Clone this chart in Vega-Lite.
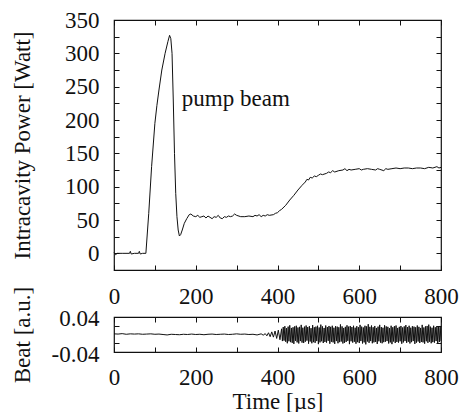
{
  "$schema": "https://vega.github.io/schema/vega-lite/v6.json",
  "padding": {"left": 10, "top": 8, "right": 5, "bottom": 0},
  "config": {
    "font": "Liberation Serif, Times New Roman, DejaVu Serif, serif",
    "view": {"stroke": "#111", "strokeWidth": 1.2},
    "axis": {
      "grid": false, "domain": false,
      "tickColor": "#111", "tickSize": -5, "tickWidth": 1,
      "labelColor": "#111", "labelFontSize": 23, "labelFont": "Liberation Serif, Times New Roman, DejaVu Serif, serif",
      "titleColor": "#111", "titleFontSize": 23, "titleFont": "Liberation Serif, Times New Roman, DejaVu Serif, serif", "titleFontWeight": "normal",
      "labelFlush": false, "labelPadding": 20
    }
  },
  "datasets": {
    "power": [
      {"t": 0, "v": 1}, {"t": 4, "v": -2}, {"t": 8, "v": 0}, {"t": 20, "v": 0}, {"t": 38, "v": 0}, {"t": 40, "v": 3}, {"t": 42, "v": -1}, {"t": 50, "v": 0}, {"t": 60, "v": 0}, {"t": 62, "v": 3}, {"t": 64, "v": -1}, {"t": 70, "v": 0}, {"t": 78, "v": 0},
      {"t": 85, "v": 60}, {"t": 92, "v": 130}, {"t": 100, "v": 195}, {"t": 105, "v": 222}, {"t": 110, "v": 245}, {"t": 117, "v": 275}, {"t": 125, "v": 300}, {"t": 132, "v": 318}, {"t": 136, "v": 327}, {"t": 139, "v": 322}, {"t": 142, "v": 300}, {"t": 145, "v": 230}, {"t": 148, "v": 150}, {"t": 151, "v": 90}, {"t": 154, "v": 55}, {"t": 157, "v": 35}, {"t": 160, "v": 26}, {"t": 163, "v": 28}, {"t": 167, "v": 35}, {"t": 172, "v": 45}, {"t": 178, "v": 52}, {"t": 184, "v": 58}, {"t": 188, "v": 59}, {"t": 194, "v": 56},
      {"t": 200, "v": 55}, {"t": 205, "v": 57}, {"t": 210, "v": 54}, {"t": 215, "v": 55}, {"t": 220, "v": 56}, {"t": 225, "v": 53}, {"t": 230, "v": 56}, {"t": 235, "v": 54}, {"t": 240, "v": 52}, {"t": 245, "v": 55}, {"t": 250, "v": 54}, {"t": 255, "v": 57}, {"t": 260, "v": 53}, {"t": 265, "v": 52}, {"t": 270, "v": 55}, {"t": 275, "v": 54}, {"t": 280, "v": 56}, {"t": 285, "v": 55}, {"t": 290, "v": 56}, {"t": 295, "v": 59}, {"t": 300, "v": 57}, {"t": 310, "v": 55}, {"t": 320, "v": 55}, {"t": 330, "v": 56}, {"t": 340, "v": 55}, {"t": 345, "v": 57}, {"t": 350, "v": 56}, {"t": 355, "v": 58}, {"t": 360, "v": 55}, {"t": 365, "v": 57}, {"t": 370, "v": 56}, {"t": 375, "v": 58}, {"t": 380, "v": 57}, {"t": 390, "v": 58}, {"t": 395, "v": 60},
      {"t": 400, "v": 61}, {"t": 405, "v": 64}, {"t": 410, "v": 66}, {"t": 420, "v": 72}, {"t": 430, "v": 80}, {"t": 440, "v": 87}, {"t": 450, "v": 95}, {"t": 460, "v": 102}, {"t": 468, "v": 107}, {"t": 472, "v": 111}, {"t": 476, "v": 110}, {"t": 480, "v": 114}, {"t": 485, "v": 113}, {"t": 490, "v": 116}, {"t": 495, "v": 115}, {"t": 500, "v": 117}, {"t": 505, "v": 119}, {"t": 510, "v": 118}, {"t": 520, "v": 120}, {"t": 525, "v": 122}, {"t": 530, "v": 121}, {"t": 535, "v": 124}, {"t": 540, "v": 122}, {"t": 550, "v": 124}, {"t": 560, "v": 125}, {"t": 565, "v": 127}, {"t": 570, "v": 124}, {"t": 575, "v": 126}, {"t": 580, "v": 125}, {"t": 590, "v": 126}, {"t": 600, "v": 127}, {"t": 605, "v": 125}, {"t": 610, "v": 126}, {"t": 620, "v": 127}, {"t": 630, "v": 126}, {"t": 640, "v": 125}, {"t": 645, "v": 127}, {"t": 650, "v": 126}, {"t": 660, "v": 124}, {"t": 665, "v": 127}, {"t": 670, "v": 126}, {"t": 680, "v": 127}, {"t": 690, "v": 128}, {"t": 700, "v": 127}, {"t": 710, "v": 128}, {"t": 720, "v": 128}, {"t": 730, "v": 127}, {"t": 740, "v": 128}, {"t": 750, "v": 128}, {"t": 760, "v": 127}, {"t": 770, "v": 129}, {"t": 780, "v": 128}, {"t": 790, "v": 130}, {"t": 795, "v": 128}, {"t": 800, "v": 129}
    ],
    "beat": [
      {"t": 0, "b": 0.003}, {"t": 10, "b": 0.002}, {"t": 20, "b": 0.004}, {"t": 30, "b": 0.001}, {"t": 40, "b": 0.003}, {"t": 50, "b": 0.002}, {"t": 60, "b": 0.003}, {"t": 70, "b": 0.001}, {"t": 80, "b": 0.002}, {"t": 90, "b": 0.003}, {"t": 100, "b": 0.001}, {"t": 110, "b": 0.002}, {"t": 120, "b": 0.0}, {"t": 130, "b": -0.002}, {"t": 140, "b": 0.001}, {"t": 150, "b": 0.0}, {"t": 160, "b": -0.001}, {"t": 170, "b": 0.001}, {"t": 180, "b": 0.0}, {"t": 190, "b": 0.002}, {"t": 200, "b": 0.0}, {"t": 210, "b": 0.001}, {"t": 220, "b": -0.001}, {"t": 230, "b": 0.001}, {"t": 240, "b": 0.002}, {"t": 250, "b": 0.0}, {"t": 260, "b": 0.001}, {"t": 270, "b": 0.002}, {"t": 280, "b": 0.0}, {"t": 290, "b": 0.001}, {"t": 300, "b": 0.003}, {"t": 310, "b": 0.001}, {"t": 320, "b": 0.002}, {"t": 330, "b": 0.0}, {"t": 340, "b": 0.001}, {"t": 350, "b": -0.002}, {"t": 360, "b": 0.003}, {"t": 365, "b": -0.003}, {"t": 370, "b": 0.004}, {"t": 374, "b": -0.006}, {"t": 378, "b": 0.008}, {"t": 382, "b": -0.01}, {"t": 386, "b": 0.012}, {"t": 390, "b": -0.012}, {"t": 394, "b": 0.016}, {"t": 398, "b": -0.018}, {"t": 402, "b": 0.02}, {"t": 406, "b": -0.024},
      {"t": 410, "b": 0.026}, {"t": 412, "b": -0.03}, {"t": 414, "b": 0.034}, {"t": 416, "b": -0.028}, {"t": 418, "b": 0.038}, {"t": 420, "b": -0.033}, {"t": 422, "b": 0.029}, {"t": 424, "b": -0.04}, {"t": 426, "b": 0.036}, {"t": 428, "b": -0.031}, {"t": 430, "b": 0.042}, {"t": 432, "b": -0.035}, {"t": 434, "b": 0.03}, {"t": 436, "b": -0.038}, {"t": 438, "b": 0.033}, {"t": 440, "b": -0.043}, {"t": 442, "b": 0.037}, {"t": 444, "b": -0.029}, {"t": 446, "b": 0.04}, {"t": 448, "b": -0.036}, {"t": 450, "b": 0.032}, {"t": 452, "b": -0.041}, {"t": 454, "b": 0.035}, {"t": 456, "b": -0.03}, {"t": 458, "b": 0.044}, {"t": 460, "b": -0.037}, {"t": 462, "b": 0.031}, {"t": 464, "b": -0.039}, {"t": 466, "b": 0.036}, {"t": 468, "b": -0.033}, {"t": 470, "b": 0.041}, {"t": 472, "b": -0.028}, {"t": 474, "b": 0.034}, {"t": 476, "b": -0.042}, {"t": 478, "b": 0.038}, {"t": 480, "b": -0.032}, {"t": 482, "b": 0.029}, {"t": 484, "b": -0.04}, {"t": 486, "b": 0.043}, {"t": 488, "b": -0.035}, {"t": 490, "b": 0.033}, {"t": 492, "b": -0.038}, {"t": 494, "b": 0.036}, {"t": 496, "b": -0.03}, {"t": 498, "b": 0.04},
      {"t": 500, "b": -0.044}, {"t": 502, "b": 0.032}, {"t": 504, "b": -0.036}, {"t": 506, "b": 0.045}, {"t": 508, "b": -0.031}, {"t": 510, "b": 0.037}, {"t": 512, "b": -0.039}, {"t": 514, "b": 0.03}, {"t": 516, "b": -0.034}, {"t": 518, "b": 0.041}, {"t": 520, "b": -0.037}, {"t": 522, "b": 0.034}, {"t": 524, "b": -0.029}, {"t": 526, "b": 0.039}, {"t": 528, "b": -0.042}, {"t": 530, "b": 0.035}, {"t": 532, "b": -0.033}, {"t": 534, "b": 0.04}, {"t": 536, "b": -0.036}, {"t": 538, "b": 0.031}, {"t": 540, "b": -0.043}, {"t": 542, "b": 0.038}, {"t": 544, "b": -0.03}, {"t": 546, "b": 0.036}, {"t": 548, "b": -0.04}, {"t": 550, "b": 0.033}, {"t": 552, "b": -0.035}, {"t": 554, "b": 0.046}, {"t": 556, "b": -0.032}, {"t": 558, "b": 0.037}, {"t": 560, "b": -0.041}, {"t": 562, "b": 0.03}, {"t": 564, "b": -0.038}, {"t": 566, "b": 0.035}, {"t": 568, "b": -0.034}, {"t": 570, "b": 0.042}, {"t": 572, "b": -0.029}, {"t": 574, "b": 0.036}, {"t": 576, "b": -0.044}, {"t": 578, "b": 0.039}, {"t": 580, "b": -0.031}, {"t": 582, "b": 0.034}, {"t": 584, "b": -0.037}, {"t": 586, "b": 0.04}, {"t": 588, "b": -0.033}, {"t": 590, "b": 0.031}, {"t": 592, "b": -0.042}, {"t": 594, "b": 0.038}, {"t": 596, "b": -0.035}, {"t": 598, "b": 0.033},
      {"t": 600, "b": -0.039}, {"t": 602, "b": 0.044}, {"t": 604, "b": -0.03}, {"t": 606, "b": 0.036}, {"t": 608, "b": -0.041}, {"t": 610, "b": 0.032}, {"t": 612, "b": -0.036}, {"t": 614, "b": 0.04}, {"t": 616, "b": -0.045}, {"t": 618, "b": 0.037}, {"t": 620, "b": -0.032}, {"t": 622, "b": 0.047}, {"t": 624, "b": -0.038}, {"t": 626, "b": 0.035}, {"t": 628, "b": -0.03}, {"t": 630, "b": 0.041}, {"t": 632, "b": -0.04}, {"t": 634, "b": 0.033}, {"t": 636, "b": -0.036}, {"t": 638, "b": 0.039}, {"t": 640, "b": -0.034}, {"t": 642, "b": 0.03}, {"t": 644, "b": -0.043}, {"t": 646, "b": 0.036}, {"t": 648, "b": -0.031}, {"t": 650, "b": 0.044}, {"t": 652, "b": -0.037}, {"t": 654, "b": 0.034}, {"t": 656, "b": -0.04}, {"t": 658, "b": 0.031}, {"t": 660, "b": -0.035}, {"t": 662, "b": 0.042}, {"t": 664, "b": -0.033}, {"t": 666, "b": 0.037}, {"t": 668, "b": -0.03}, {"t": 670, "b": 0.035}, {"t": 672, "b": -0.041}, {"t": 674, "b": 0.029}, {"t": 676, "b": -0.036}, {"t": 678, "b": 0.04}, {"t": 680, "b": -0.044}, {"t": 682, "b": 0.033}, {"t": 684, "b": -0.032}, {"t": 686, "b": 0.038}, {"t": 688, "b": -0.039}, {"t": 690, "b": 0.041}, {"t": 692, "b": -0.034}, {"t": 694, "b": 0.03}, {"t": 696, "b": -0.037}, {"t": 698, "b": 0.035},
      {"t": 700, "b": -0.031}, {"t": 702, "b": 0.039}, {"t": 704, "b": -0.042}, {"t": 706, "b": 0.032}, {"t": 708, "b": -0.036}, {"t": 710, "b": 0.037}, {"t": 712, "b": -0.03}, {"t": 714, "b": 0.043}, {"t": 716, "b": -0.038}, {"t": 718, "b": 0.034}, {"t": 720, "b": -0.033}, {"t": 722, "b": 0.04}, {"t": 724, "b": -0.041}, {"t": 726, "b": 0.031}, {"t": 728, "b": -0.035}, {"t": 730, "b": 0.038}, {"t": 732, "b": -0.03}, {"t": 734, "b": 0.036}, {"t": 736, "b": -0.043}, {"t": 738, "b": 0.033}, {"t": 740, "b": -0.037}, {"t": 742, "b": 0.041}, {"t": 744, "b": -0.032}, {"t": 746, "b": 0.035}, {"t": 748, "b": -0.039}, {"t": 750, "b": 0.03}, {"t": 752, "b": -0.034}, {"t": 754, "b": 0.044}, {"t": 756, "b": -0.036}, {"t": 758, "b": 0.032}, {"t": 760, "b": -0.042}, {"t": 762, "b": 0.037}, {"t": 764, "b": -0.031}, {"t": 766, "b": 0.039}, {"t": 768, "b": -0.038}, {"t": 770, "b": 0.045}, {"t": 772, "b": -0.033}, {"t": 774, "b": 0.036}, {"t": 776, "b": -0.04}, {"t": 778, "b": 0.031}, {"t": 780, "b": -0.035}, {"t": 782, "b": 0.04}, {"t": 784, "b": -0.037}, {"t": 786, "b": 0.033}, {"t": 788, "b": -0.03}, {"t": 790, "b": 0.038}, {"t": 792, "b": -0.041}, {"t": 794, "b": 0.035}, {"t": 796, "b": -0.034}, {"t": 798, "b": 0.039}, {"t": 800, "b": -0.03}
    ],
    "note": [{"t": 166, "v": 232, "label": "pump beam"}]
  },
  "bounds": "flush",
  "spacing": 47,
  "vconcat": [
    {
      "width": 327, "height": 250,
      "layer": [
        {
          "data": {"name": "power"},
          "mark": {"type": "line", "color": "#111", "strokeWidth": 1, "interpolate": "linear"},
          "encoding": {
            "x": {"field": "t", "type": "quantitative", "scale": {"domain": [0, 800], "nice": false, "zero": false},
                  "axis": {"orient": "bottom", "title": null, "values": [0, 100, 200, 300, 400, 500, 600, 700, 800],
                           "labelExpr": "datum.value % 200 == 0 ? datum.label : ''"}},
            "y": {"field": "v", "type": "quantitative", "scale": {"domain": [-25, 350], "nice": false, "zero": false},
                  "axis": {"orient": "left", "title": "Intracavity Power [Watt]", "titleX": -80, "titleBaseline": "bottom",
                           "values": [-25, 0, 25, 50, 75, 100, 125, 150, 175, 200, 225, 250, 275, 300, 325, 350],
                           "labelExpr": "(datum.value % 50 == 0 && datum.value >= 0) ? datum.label : ''", "labelPadding": 20}}
          }
        },
        {
          "data": {"name": "note"},
          "mark": {"type": "text", "align": "left", "baseline": "middle", "fontSize": 23, "font": "Liberation Serif, Times New Roman, DejaVu Serif, serif", "color": "#111"},
          "encoding": {
            "x": {"field": "t", "type": "quantitative", "scale": {"domain": [0, 800], "nice": false, "zero": false},
                  "axis": {"orient": "top", "title": null, "labels": false, "values": [0, 100, 200, 300, 400, 500, 600, 700, 800]}},
            "y": {"field": "v", "type": "quantitative", "scale": {"domain": [-25, 350], "nice": false, "zero": false},
                  "axis": {"orient": "right", "title": null, "labels": false,
                           "values": [-25, 0, 25, 50, 75, 100, 125, 150, 175, 200, 225, 250, 275, 300, 325, 350]}},
            "text": {"field": "label"}
          }
        }
      ]
    },
    {
      "width": 327, "height": 35,
      "layer": [
        {
          "data": {"name": "beat"},
          "mark": {"type": "line", "color": "#111", "strokeWidth": 1},
          "encoding": {
            "x": {"field": "t", "type": "quantitative", "scale": {"domain": [0, 800], "nice": false, "zero": false},
                  "axis": {"orient": "bottom", "title": "Time [µs]", "titlePadding": 1, "labelPadding": 19, "values": [0, 100, 200, 300, 400, 500, 600, 700, 800],
                           "labelExpr": "datum.value % 200 == 0 ? datum.label : ''"}},
            "y": {"field": "b", "type": "quantitative", "scale": {"domain": [-0.08, 0.08], "nice": false, "zero": false},
                  "axis": {"orient": "left", "title": "Beat [a.u.]", "titleX": -80, "titleBaseline": "bottom", "values": [-0.04, 0.04],
                           "labelPadding": 20,
                           "labelExpr": "replace(format(datum.value, '.2f'), '−', '-')",
                           "labelBaseline": {"condition": {"test": "datum.value > 0", "value": "alphabetic"}, "value": "top"}}}
          }
        },
        {
          "data": {"name": "beat"},
          "mark": {"type": "point", "opacity": 0},
          "encoding": {
            "x": {"field": "t", "type": "quantitative", "scale": {"domain": [0, 800], "nice": false, "zero": false},
                  "axis": {"orient": "top", "title": null, "labels": false, "values": [0, 100, 200, 300, 400, 500, 600, 700, 800]}},
            "y": {"field": "b", "type": "quantitative", "scale": {"domain": [-0.08, 0.08], "nice": false, "zero": false},
                  "axis": {"orient": "right", "title": null, "labels": false, "values": [-0.04, 0.04]}}
          }
        }
      ]
    }
  ]
}
